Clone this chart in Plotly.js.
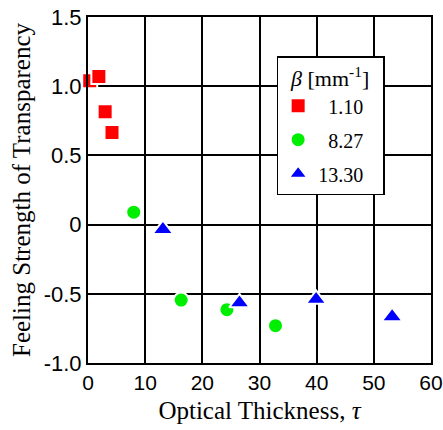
<!DOCTYPE html>
<html>
<head>
<meta charset="utf-8">
<script src="https://cdn.plot.ly/plotly-3.0.1.min.js"></script>
<style>html,body{margin:0;padding:0;background:#fff;}</style>
</head>
<body>
<div id="chart" style="width:443px;height:430px;"></div>
<script>
// beta = 1.10 mm^-1
const tau_110 = [0.3, 1.9, 3.0, 4.2];
const fst_110 = [1.04, 1.07, 0.815, 0.665];
// beta = 8.27 mm^-1
const tau_827 = [8.0, 16.3, 24.3, 32.8];
const fst_827 = [0.09, -0.545, -0.615, -0.73];
// beta = 13.30 mm^-1
const tau_1330 = [13.1, 26.5, 39.9, 53.2];
const fst_1330 = [-0.035, -0.565, -0.54, -0.665];

const seriesNames = ["\u00a0\u00a01.10\u00a0\u00a0\u00a0", "\u00a0\u00a08.27\u00a0\u00a0\u00a0", "13.30\u00a0\u00a0\u00a0"];
const xTickVals = [0, 10, 20, 30, 40, 50, 60];
const yTickVals = [-1.0, -0.5, 0, 0.5, 1.0, 1.5];
const yTickText = ["-1.0", "-0.5", "0", "0.5", "1.0", "1.5"];

const serif = "Liberation Serif, Times New Roman, serif";
const sans = "Liberation Sans, Arial, sans-serif";

function mk(x, y, name, symbol, color, size, grp) {
  return {
    x: x, y: y, name: name, type: "scatter", mode: "markers",
    cliponaxis: false, legendgroup: grp,
    marker: {symbol: symbol, size: size, color: color, line: {color: "#ffffff", width: 2}}
  };
}

const data = [
  mk(tau_110, fst_110, seriesNames[0], "square", "#ff0000", 15, "a"),
  mk(tau_827, fst_827, seriesNames[1], "circle", "#00ee00", 15, "b"),
  mk(tau_1330, fst_1330, seriesNames[2], "triangle-up", "#0000ff", 18, "c")
];

const layout = {
  width: 443, height: 430,
  margin: {l: 88, r: 12, t: 17, b: 67},
  paper_bgcolor: "#ffffff", plot_bgcolor: "#ffffff",
  showlegend: true,
  xaxis: {
    range: [0, 60], tickvals: xTickVals, ticks: "",
    ticklabeloverflow: "allow",
    showgrid: true, gridcolor: "#000000", gridwidth: 2,
    showline: true, linecolor: "#000000", linewidth: 2, mirror: true,
    zeroline: false,
    tickfont: {family: sans, size: 21, color: "#000"},
    title: {text: "\u00a0\u00a0\u00a0\u00a0\u00a0Optical Thickness, <i>τ</i>", font: {family: serif, size: 25, color: "#000"}, standoff: 8}
  },
  yaxis: {
    range: [-1.0, 1.5], tickvals: yTickVals, ticktext: yTickText, ticks: "",
    showgrid: true, gridcolor: "#000000", gridwidth: 2,
    showline: true, linecolor: "#000000", linewidth: 2, mirror: true,
    zeroline: false,
    tickfont: {family: sans, size: 22, color: "#000"},
    title: {text: "Feeling Strength of Transparency", font: {family: serif, size: 25, color: "#000"}, standoff: 6}
  },
  legend: {
    x: 0.55, y: 0.887, xanchor: "left", yanchor: "top",
    bgcolor: "#ffffff", bordercolor: "#000000", borderwidth: 1.5,
    traceorder: "grouped", tracegroupgap: 5,
    font: {family: serif, size: 20, color: "#000"},
    title: {text: "<i>β</i> [mm<sup>-1</sup>]", side: "top center", font: {family: serif, size: 22, color: "#000"}}
  }
};

Plotly.newPlot("chart", data, layout, {displayModeBar: false, staticPlot: true});
</script>
</body>
</html>
